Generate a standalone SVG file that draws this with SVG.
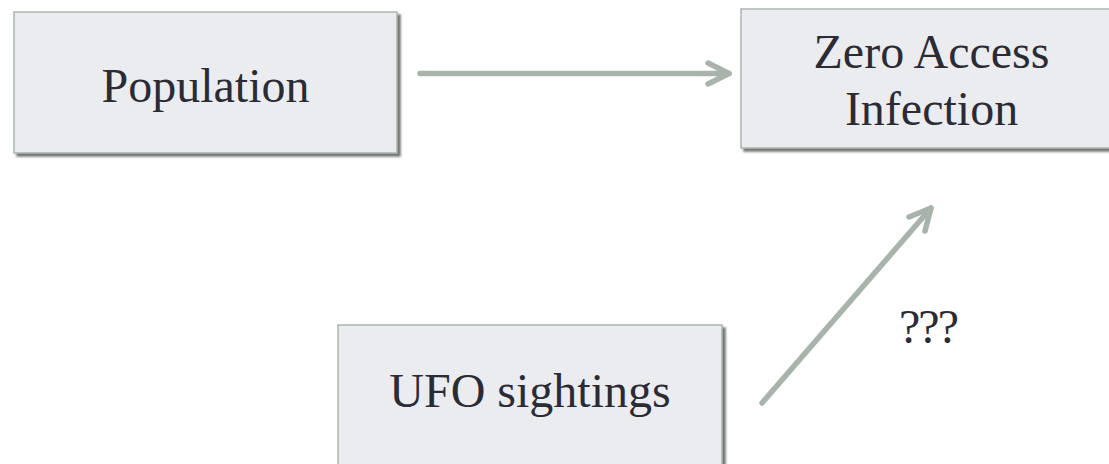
<svg xmlns="http://www.w3.org/2000/svg" width="1109" height="464" viewBox="0 0 1109 464">
  <style>
    .box { fill: #ebecf0; stroke: #a9b5ad; stroke-width: 1.5; filter: url(#shadow); }
    .label { font-family: "Liberation Serif", "Times New Roman", serif; font-size: 48px; fill: #2b2b36; text-anchor: middle; }
    .link { fill: none; stroke: #a7b3ab; stroke-width: 5.5; stroke-linecap: round; stroke-linejoin: round; }
  </style>
  <defs>
    <filter id="shadow" x="-10%" y="-10%" width="130%" height="130%">
      <feGaussianBlur in="SourceAlpha" stdDeviation="1.2"/>
      <feOffset dx="3" dy="3" result="off"/>
      <feFlood flood-color="#666666" flood-opacity="0.9"/>
      <feComposite in2="off" operator="in"/>
      <feMerge>
        <feMergeNode/>
        <feMergeNode in="SourceGraphic"/>
      </feMerge>
    </filter>
  </defs>
  <rect width="1109" height="464" fill="#ffffff"/>

  <g id="population">
    <rect class="box" x="14" y="12" width="383" height="141"/>
    <text class="label" x="205.5" y="102">Population</text>
  </g>

  <g id="zero-access-infection">
    <rect class="box" x="741" y="9" width="383" height="139"/>
    <text class="label" x="931.5" y="68">Zero Access</text>
    <text class="label" x="931.5" y="125">Infection</text>
  </g>

  <g id="ufo-sightings">
    <rect class="box" x="338" y="325" width="384" height="160"/>
    <text class="label" x="530" y="407">UFO sightings</text>
  </g>

  <g id="connectors">
    <path class="link" d="M420 73.5 H729"/>
    <path class="link" d="M708 63 L729 73.5 L708 84"/>
    <path class="link" d="M762 403 L931 208"/>
    <path class="link" d="M909 217 L931 208 L925 231"/>
    <text class="label" x="928" y="343" letter-spacing="-2">???</text>
  </g>
</svg>
